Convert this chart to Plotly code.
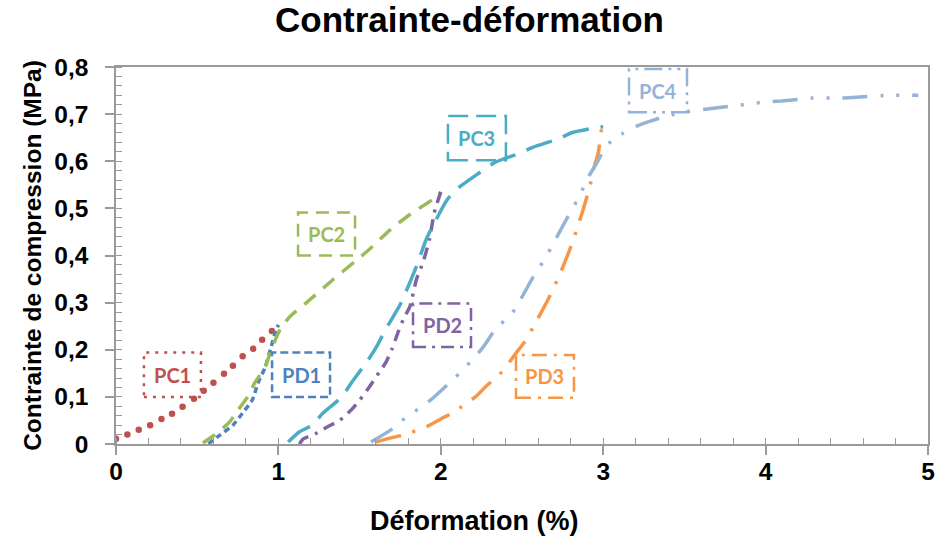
import plotly.graph_objects as go

# ---------------- data (Déformation %, Contrainte MPa) ----------------
pc1_x = [0.0, 0.07, 0.14, 0.21, 0.28, 0.345, 0.41, 0.48, 0.54, 0.60, 0.665, 0.72, 0.78, 0.845, 0.90, 0.96]
pc1_y = [0.011, 0.02, 0.03, 0.04, 0.053, 0.064, 0.079, 0.096, 0.113, 0.13, 0.149, 0.166, 0.186, 0.202, 0.221, 0.24]

pd1_x = [0.57, 0.59, 0.64, 0.72, 0.78, 0.84, 0.875, 0.92, 0.95, 0.98, 1.0]
pd1_y = [0.0, 0.006, 0.019, 0.04, 0.066, 0.094, 0.13, 0.164, 0.2, 0.236, 0.253]

pc2_x = [0.535, 0.56, 0.61, 0.70, 0.73, 0.81, 0.855, 0.92, 0.96, 1.01, 1.07, 1.18, 1.33, 1.47, 1.55, 1.69, 1.81, 1.95, 2.0]
pc2_y = [0.002, 0.008, 0.02, 0.047, 0.062, 0.10, 0.13, 0.165, 0.204, 0.243, 0.27, 0.302, 0.347, 0.387, 0.41, 0.455, 0.487, 0.519, 0.534]

pd2_x = [1.13, 1.15, 1.24, 1.30, 1.38, 1.45, 1.50, 1.56, 1.62, 1.66, 1.70, 1.74, 1.77, 1.81, 1.85, 1.89, 1.93, 1.96, 2.0]
pd2_y = [0.0, 0.01, 0.024, 0.036, 0.051, 0.073, 0.093, 0.121, 0.152, 0.172, 0.202, 0.24, 0.265, 0.292, 0.349, 0.385, 0.434, 0.491, 0.535]

pc3_x = [1.06, 1.13, 1.21, 1.27, 1.39, 1.45, 1.55, 1.61, 1.66, 1.75, 1.85, 1.91, 1.95, 2.04, 2.11, 2.24, 2.33, 2.47, 2.57, 2.72, 2.81, 2.97, 3.0]
pc3_y = [0.004, 0.026, 0.04, 0.064, 0.10, 0.13, 0.177, 0.21, 0.243, 0.296, 0.377, 0.434, 0.462, 0.519, 0.544, 0.576, 0.597, 0.615, 0.63, 0.647, 0.661, 0.672, 0.673]

pd3_x = [1.6, 1.68, 1.77, 1.92, 2.0, 2.08, 2.22, 2.28, 2.36, 2.41, 2.47, 2.53, 2.57, 2.66, 2.74, 2.81, 2.84, 2.87, 2.92, 2.94, 2.97, 2.99, 3.0]
pd3_y = [0.004, 0.012, 0.019, 0.038, 0.053, 0.068, 0.102, 0.123, 0.147, 0.168, 0.196, 0.223, 0.249, 0.306, 0.366, 0.427, 0.459, 0.49, 0.55, 0.583, 0.619, 0.668, 0.675]

pc4_x = [1.57, 1.71, 1.78, 1.86, 1.94, 2.06, 2.13, 2.20, 2.26, 2.34, 2.44, 2.57, 2.63, 2.68, 2.73, 2.78, 2.86, 2.90, 2.95, 3.0,
         3.06, 3.12, 3.21, 3.29, 3.39, 3.53, 3.64, 3.74, 3.84, 3.98, 4.1, 4.29, 4.46, 4.56, 4.77, 4.94]
pc4_y = [0.004, 0.034, 0.055, 0.074, 0.094, 0.132, 0.155, 0.181, 0.205, 0.245, 0.278, 0.355, 0.387, 0.417, 0.449, 0.481, 0.53, 0.562, 0.59, 0.621,
         0.647, 0.659, 0.675, 0.685, 0.696, 0.706, 0.711, 0.715, 0.719, 0.725, 0.728, 0.734, 0.734, 0.736, 0.74, 0.74]

x_ticks = [0, 1, 2, 3, 4, 5]
x_ticktext = ["0", "1", "2", "3", "4", "5"]
y_ticks = [0, 0.1, 0.2, 0.3, 0.4, 0.5, 0.6, 0.7, 0.8]
y_ticktext = ["0", "0,1", "0,2", "0,3", "0,4", "0,5", "0,6", "0,7", "0,8"]

# label names and their boxes (data coordinates)
label_names = ["PC1", "PD1", "PC2", "PD2", "PC3", "PD3", "PC4"]
label_x0 = [0.172, 0.961, 1.121, 1.829, 2.044, 2.463, 3.159]
label_x1 = [0.523, 1.318, 1.472, 2.186, 2.401, 2.820, 3.516]
label_y0 = [0.100, 0.100, 0.400, 0.206, 0.602, 0.098, 0.704]
label_y1 = [0.194, 0.194, 0.491, 0.298, 0.696, 0.189, 0.796]

# ---------------- styles ----------------
colors = {
    "PC1": "#C0504D", "PD1": "#4F81BD", "PC2": "#9BBB59", "PD2": "#8064A2",
    "PC3": "#4BACC6", "PD3": "#F79646", "PC4": "#95B3D7",
}
line_dash = {
    "PD1": "6px,4px",
    "PC2": "15px,10px",
    "PD2": "12px,7px,3px,7px",
    "PC3": "27px,12px",
    "PD3": "26px,12px,3px,12px",
    "PC4": "25px,13px,3px,13px,3px,13px",
}
box_dash = {
    "PC1": "3px,6px",
    "PD1": "8px,4px",
    "PC2": "13px,8px",
    "PD2": "13px,6px,3px,6px",
    "PC3": "20px,8px",
    "PD3": "15px,7px,3px,7px",
    "PC4": "18px,6px,3px,6px,3px,6px",
}

fig = go.Figure()

fig.add_trace(go.Scatter(x=pc1_x, y=pc1_y, mode="markers",
                         marker=dict(color=colors["PC1"], size=6.5), name="PC1"))

series = [("PD1", pd1_x, pd1_y), ("PC2", pc2_x, pc2_y), ("PD2", pd2_x, pd2_y),
          ("PC3", pc3_x, pc3_y), ("PD3", pd3_x, pd3_y), ("PC4", pc4_x, pc4_y)]
for name, xs, ys in series:
    fig.add_trace(go.Scatter(x=xs, y=ys, mode="lines", name=name,
                             line=dict(color=colors[name], width=3.5, dash=line_dash[name],
                                       shape="spline", smoothing=0.6)))

for name, x0, x1, y0, y1 in zip(label_names, label_x0, label_x1, label_y0, label_y1):
    fig.add_shape(type="rect", xref="x", yref="y", x0=x0, x1=x1, y0=y0, y1=y1,
                  line=dict(color=colors[name], width=2.5, dash=box_dash[name]),
                  fillcolor="rgba(0,0,0,0)")
    fig.add_annotation(x=(x0 + x1) / 2, y=(y0 + y1) / 2, xref="x", yref="y",
                       text=name, showarrow=False,
                       font=dict(family="Lato", size=20, color=colors[name], weight="bold"))

# x-axis title (centred on the whole figure as in the reference)
fig.add_annotation(text="Déformation (%)", xref="paper", yref="paper",
                   x=0.442, y=-0.203, xanchor="center", yanchor="middle", showarrow=False,
                   font=dict(family="Arial", size=27, color="#000000", weight="bold"))

axis_font = dict(family="Arial", size=24.5, color="#000000", weight="bold")

fig.update_layout(
    width=939, height=545,
    margin=dict(l=116, r=11, t=67, b=101),
    paper_bgcolor="white", plot_bgcolor="white",
    showlegend=False,
    title=dict(text="<b>Contrainte-déformation</b>", x=0.5, xanchor="center",
               y=0.963, yref="container", yanchor="middle",
               font=dict(family="Arial", size=35, color="#000000")),
    xaxis=dict(range=[0, 5], tickvals=x_ticks, ticktext=x_ticktext, automargin=False,
               showgrid=False, zeroline=False,
               showline=True, linecolor="#9A9A9A", linewidth=1.5, mirror=True,
               ticks="outside", ticklen=9, tickcolor="#9A9A9A", tickwidth=1.5,
               minor=dict(dtick=0.2, ticks="inside", ticklen=6, tickcolor="#9A9A9A", tickwidth=1),
               tickfont=axis_font, ticklabelstandoff=-4),
    yaxis=dict(range=[0, 0.8], tickvals=y_ticks, ticktext=y_ticktext, automargin=False,
               showgrid=False, zeroline=False,
               showline=True, linecolor="#9A9A9A", linewidth=1.5, mirror=True,
               ticks="outside", ticklen=9, tickcolor="#9A9A9A", tickwidth=1.5,
               minor=dict(dtick=0.02, ticks="inside", ticklen=6, tickcolor="#9A9A9A", tickwidth=1),
               tickfont=axis_font, ticklabelstandoff=12,
               title=dict(text="Contrainte de compression (MPa)",
                          font=dict(family="Arial", size=24.5, color="#000000", weight="bold"),
                          standoff=6)),
)

fig.write_html("out.html")
